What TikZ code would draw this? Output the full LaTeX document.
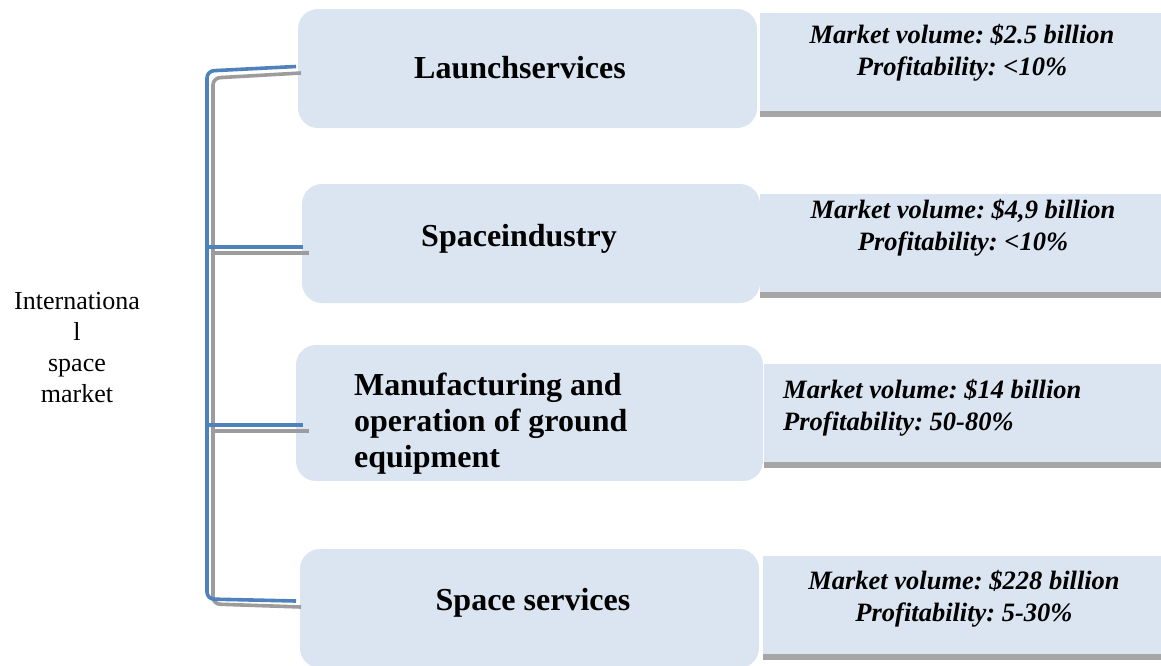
\documentclass[tikz,border=0pt]{standalone}
\usepackage{fontspec}
\setmainfont{Liberation Serif}
\usepackage{xcolor}
\frenchspacing
\definecolor{segfill}{HTML}{DBE5F1}
\definecolor{brblue}{HTML}{4F81BD}
\definecolor{brgray}{HTML}{9C9C9C}
\definecolor{bargray}{HTML}{A6A6A6}

\begin{document}
\begin{tikzpicture}[x=1pt,y=-1pt,
    segbox/.style={fill=segfill, rounded corners=20pt, inner sep=0pt},
    databox/.style={fill=segfill, inner sep=0pt, minimum height=98pt},
    databar/.style={draw=bargray, line width=5.5pt},
    brline/.style={draw=brblue, line width=3.6pt},
    brshadow/.style={draw=brgray, line width=3.6pt},
    segtxt/.style={inner sep=0pt, font=\fontsize{32}{36}\selectfont\bfseries},
    datatxt/.style={inner sep=0pt, align=center, font=\fontsize{26.5}{31.5}\selectfont\bfseries\itshape},
    labeltxt/.style={inner sep=0pt, align=center, font=\fontsize{26}{30.7}\selectfont}]
      \useasboundingbox (0,0) rectangle (1161,665);
      % segments
      \node[segbox, minimum width=459pt, minimum height=119pt] (launch) at (527.5,68.5) {};
      \node[segbox, minimum width=458pt, minimum height=119pt] (industry) at (531,243.5) {};
      \node[segbox, minimum width=467pt, minimum height=136pt] (ground) at (529.5,413) {};
      \node[segbox, minimum width=459pt, minimum height=119pt] (services) at (529.5,608.5) {};
      % market data
      \node[databox, minimum width=401pt] (launchdata) at (960.5,62) {};
      \node[databox, minimum width=401pt] (industrydata) at (960.5,243) {};
      \node[databox, minimum width=397pt] (grounddata) at (962.5,413) {};
      \node[databox, minimum width=398pt] (servicesdata) at (962,605) {};
      \foreach \d in {launchdata,industrydata,grounddata,servicesdata}
        \draw[databar] ([yshift=-2.75pt]\d.south west) -- ([yshift=-2.75pt]\d.south east);
      % bracket
      \coordinate (spinetwo) at (207,247);
      \coordinate (spinethree) at (207,425);
      \coordinate (shadowtwo) at (213,253);
      \coordinate (shadowthree) at (213,431);
      \draw[brshadow, rounded corners=7pt] (301,73) -- (213,78) -- (213,604) -- (301,607);
      \draw[brshadow] (shadowtwo) -- ([xshift=7pt]shadowtwo -| industry.west);
      \draw[brshadow] (shadowthree) -- ([xshift=13pt]shadowthree -| ground.west);
      \draw[brline, rounded corners=7pt] (296,66.5) -- (207,71) -- (207,599) -- (296,601);
      \draw[brline] (spinetwo) -- ([xshift=1pt]spinetwo -| industry.west);
      \draw[brline] (spinethree) -- ([xshift=7pt]spinethree -| ground.west);
      % texts (base = last line)
      \node[labeltxt, anchor=base] (market) at (77,402) {Internationa\\l\\space\\market};
      \node[segtxt, anchor=base] (launchtxt) at (520,78) {Launchservices};
      \node[segtxt, anchor=base] (industrytxt) at (519,246) {Spaceindustry};
      \node[segtxt, anchor=base west, align=left, font=\fontsize{32}{36}\selectfont\bfseries] (groundtxt) at (354,467) {Manufacturing and\\operation of ground\\equipment};
      \node[segtxt, anchor=base] (servicestxt) at (533,610) {Space services};
      \node[datatxt, anchor=base] (launchval) at (962,75) {Market volume: \$2.5 billion\\Profitability: <10\%};
      \node[datatxt, anchor=base] (industryval) at (963,250) {Market volume: \$4,9 billion\\Profitability: <10\%};
      \node[datatxt, anchor=base west, align=left] (groundval) at (783,430) {Market volume: \$14 billion\\Profitability: 50-80\%};
      \node[datatxt, anchor=base] (servicesval) at (964,621) {Market volume: \$228 billion\\Profitability: 5-30\%};
    \end{tikzpicture}
\end{document}
